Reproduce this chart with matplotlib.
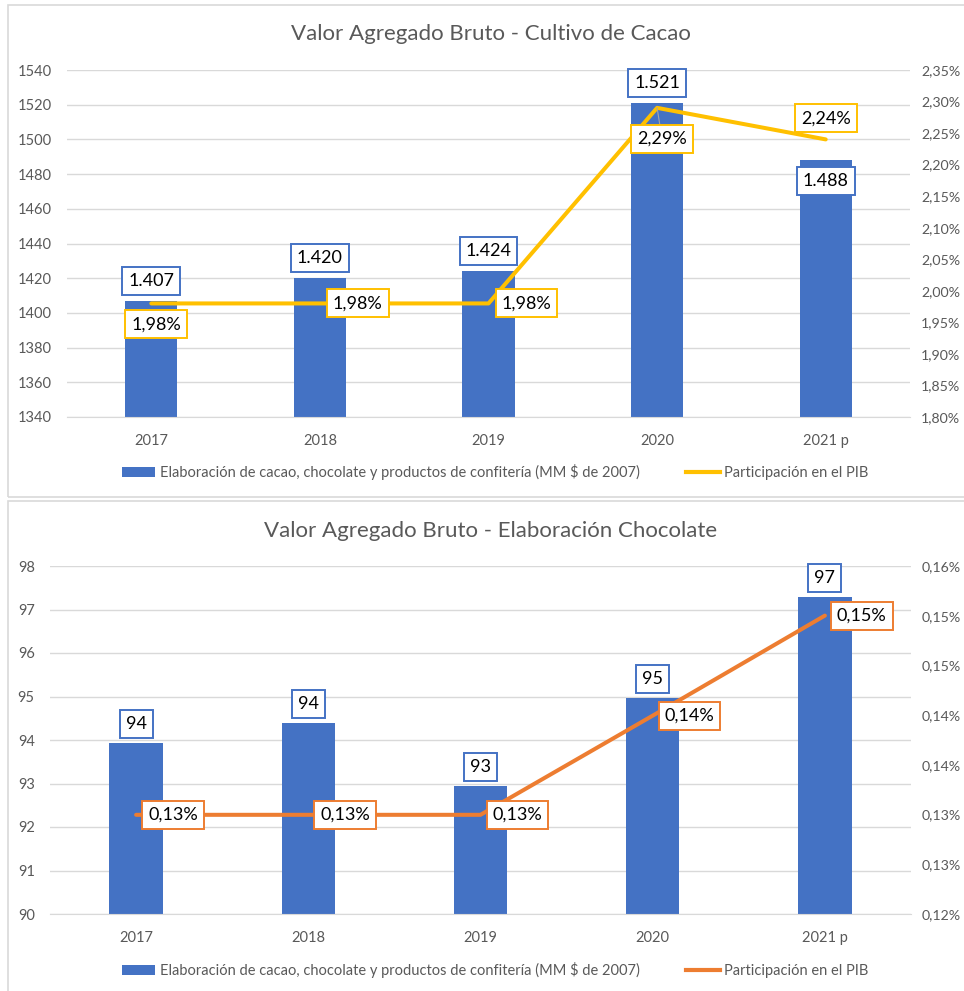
import matplotlib.pyplot as plt
import numpy as np
from matplotlib.patches import Rectangle
from matplotlib.lines import Line2D
from matplotlib.patches import Patch

plt.rcParams['font.family'] = ['Lato', 'DejaVu Sans']

years = ["2017", "2018", "2019", "2020", "2021 p"]

cacao_vab = [1407, 1420, 1424, 1521, 1488]
cacao_pib = [1.98, 1.98, 1.98, 2.29, 2.24]
cacao_bar_labels = ["1.407", "1.420", "1.424", "1.521", "1.488"]
cacao_pib_labels = ["1,98%", "1,98%", "1,98%", "2,29%", "2,24%"]

choc_vab = [93.93, 94.39, 92.94, 94.97, 97.29]
choc_pib = [0.1314, 0.1314, 0.1314, 0.1428, 0.1543]
choc_bar_labels = ["94", "94", "93", "95", "97"]
choc_pib_labels = ["0,13%", "0,13%", "0,13%", "0,14%", "0,15%"]

BLUE = "#4472C4"
YELLOW = "#FFC000"
ORANGE = "#ED7D31"
GRID = "#D9D9D9"
TXT = "#595959"
BAR_LEGEND = "Elaboración de cacao, chocolate y productos de confitería (MM $ de 2007)"
LINE_LEGEND = "Participación en el PIB"

W, H = 964, 991
fig = plt.figure(figsize=(W / 100, H / 100), dpi=100)


def fx(px):
    return px / W


def fy(py):
    return 1 - py / H


def style_axes(ax, ax2):
    for a in (ax, ax2):
        for s in a.spines.values():
            s.set_visible(False)
        a.tick_params(length=0, labelsize=10.5, labelcolor=TXT)
    ax.spines["bottom"].set_visible(True)
    ax.spines["bottom"].set_color(GRID)
    ax.grid(axis="y", color=GRID, lw=1)
    ax.set_axisbelow(True)
    ax.tick_params(axis="y", pad=11)
    ax.tick_params(axis="x", pad=12)
    ax2.tick_params(axis="y", pad=8, labelsize=10.2)


def box_label(ax2, text, x, y, color, dx, dy, ha="center", coords=None, leader=False):
    kw = {}
    if leader:
        kw["arrowprops"] = dict(arrowstyle="-", color="#A6A6A6", lw=0.8, shrinkA=0, shrinkB=0)
    ax2.annotate(text, xy=(x, y), xycoords=coords if coords is not None else "data",
                 xytext=(dx, dy), textcoords="offset pixels", ha=ha, va="center",
                 fontsize=13, color="black", zorder=10,
                 bbox=dict(boxstyle="square,pad=0.33", fc="white", ec=color, lw=1.4), **kw)


def panel(rect, title, title_y, vab, pib, bar_labels, pib_labels, line_color,
          ylim, yticks, y2lim, y2ticks, bar_offsets, line_offsets, legend_y, leader_idx=None):
    ax = fig.add_axes(rect)
    x = np.arange(len(years))
    ax.bar(x, vab, width=0.31, color=BLUE, zorder=2)
    ax.set_xlim(-0.5, len(years) - 0.5)
    ax.set_ylim(*ylim)
    ax.set_yticks(yticks)
    ax.set_xticks(x)
    ax.set_xticklabels(years)

    ax2 = ax.twinx()
    ax2.plot(x, pib, color=line_color, lw=2.9, solid_capstyle="round", zorder=3)
    ax2.set_ylim(*y2lim)
    ax2.set_yticks(y2ticks)
    ax2.set_yticklabels([f"{v:.2f}%".replace(".", ",") for v in y2ticks])
    style_axes(ax, ax2)

    for i in range(len(years)):
        dx, dy, ha = bar_offsets[i]
        box_label(ax2, bar_labels[i], x[i], vab[i], BLUE, dx, dy, ha, coords=ax.transData)
        dx, dy, ha = line_offsets[i]
        box_label(ax2, pib_labels[i], x[i], pib[i], line_color, dx, dy, ha,
                  leader=(i == leader_idx))

    fig.text(fx(491), fy(title_y), title, ha="center", va="center", fontsize=16, color=TXT)

    handles = [Patch(facecolor=BLUE), Line2D([0], [0], color=line_color, lw=3)]
    fig.legend(handles, [BAR_LEGEND, LINE_LEGEND], loc="center", ncol=2,
               bbox_to_anchor=(fx(495), fy(legend_y)), frameon=False, fontsize=10.5,
               labelcolor=TXT, handlelength=2.3, handleheight=0.7, handletextpad=0.3,
               columnspacing=3.2)
    return ax, ax2


# panel borders
fig.add_artist(Rectangle((fx(8), fy(497)), 1.2, fy(5) - fy(497), transform=fig.transFigure,
                         fill=False, ec=GRID, lw=1.2))
fig.add_artist(Rectangle((fx(8), fy(1100)), 1.2, fy(501) - fy(1100), transform=fig.transFigure,
                         fill=False, ec=GRID, lw=1.2))

panel([fx(67), fy(417), fx(910) - fx(67), fy(70) - fy(417)],
      "Valor Agregado Bruto - Cultivo de Cacao", 34,
      cacao_vab, cacao_pib, cacao_bar_labels, cacao_pib_labels, YELLOW,
      (1340, 1540), np.arange(1340, 1541, 20), (1.80, 2.35), np.arange(1.80, 2.351, 0.05),
      [(0, 20, "center"), (0, 20, "center"), (0, 20, "center"), (0, 20, "center"), (0, -21, "center")],
      [(5, -21, "center"), (13, 0, "left"), (13, 0, "left"), (5, -31, "center"), (0, 21, "center")],
      472, leader_idx=3)

panel([fx(50), fy(914), fx(911) - fx(50), fy(566) - fy(914)],
      "Valor Agregado Bruto - Elaboración Chocolate", 531,
      choc_vab, choc_pib, choc_bar_labels, choc_pib_labels, ORANGE,
      (90, 98), np.arange(90, 99, 1), (0.12, 0.16), np.linspace(0.12, 0.16, 8),
      [(0, 19, "center")] * 5,
      [(12, 0, "left")] * 5,
      970)

fig.savefig("out.png", dpi=100)
